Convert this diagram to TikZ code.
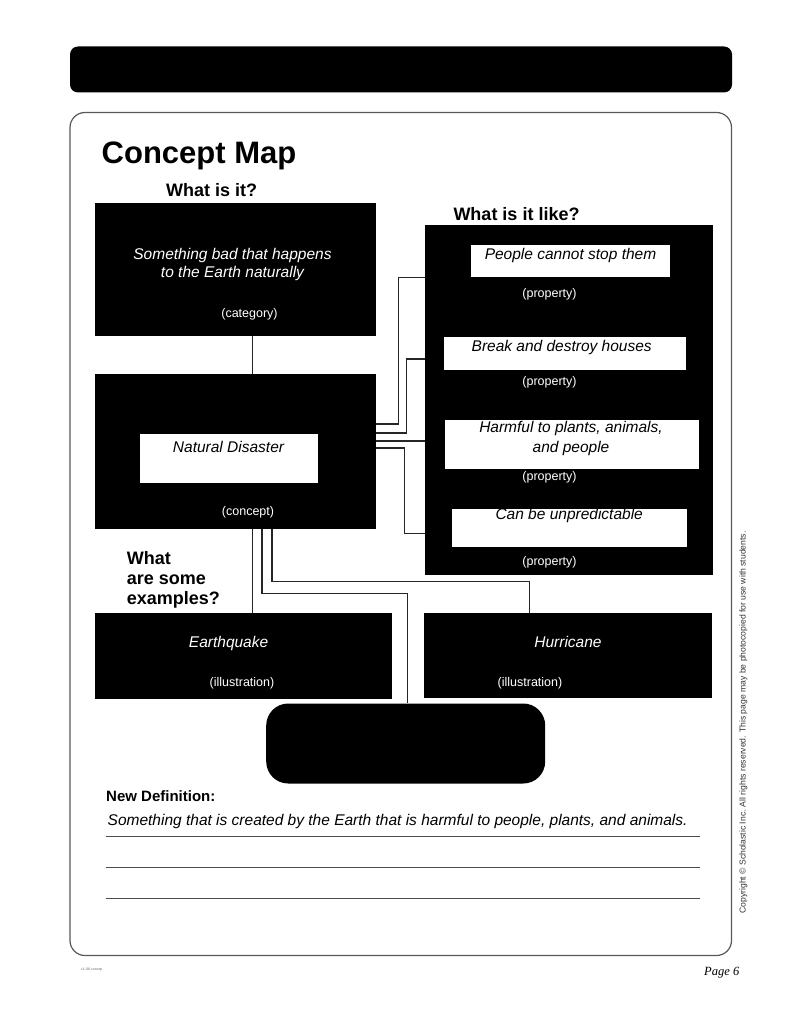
\documentclass[tikz,border=0pt]{standalone}
\usepackage{fontspec}
\setmainfont{Liberation Sans}
\newfontfamily\pageserif{Liberation Serif}
\usetikzlibrary{positioning}
\begin{document}
\begin{tikzpicture}[x=1pt,y=-1pt,
  blk/.style={fill=black, draw=none, inner sep=0pt, anchor=north west},
  wbox/.style={fill=white, draw=none, inner sep=0pt, anchor=north west},
  boxtxt/.style={font=\fontsize{15.5}{18}\selectfont\itshape, text=white, inner sep=0pt, anchor=base, align=center},
  intxt/.style={font=\fontsize{15.5}{20}\selectfont\itshape, text=black, inner sep=0pt, anchor=base, align=center},
  role/.style={font=\fontsize{12.5}{14}\selectfont, text=white, inner sep=0pt, anchor=base},
  head/.style={font=\fontsize{18}{20}\selectfont\bfseries, inner sep=0pt, anchor=base west, align=left},
  conn/.style={draw=black!85, line width=1.3pt},
  rule/.style={draw=black!70, line width=1pt},
  frame/.style={draw=black!65, line width=1.2pt}
]
\useasboundingbox (0,0) rectangle (790,1022);
\fill[white] (0,0) rectangle (790,1022);

% top bar and frame
\fill[black, rounded corners=8pt] (70,46.5) rectangle (732,92.5);
\draw[frame, rounded corners=15pt] (70,112.5) rectangle (731.5,955.5);

% title and headings (multi-line nodes: base = last line's baseline)
\node[font=\fontsize{31}{36}\selectfont\bfseries, inner sep=0pt, anchor=base west] (title) at (101.5,163.3) {Concept Map};
\node[head] (hwhat) at (166,196.7) {What is it?};
\node[head] (hlike) at (453.3,220.7) {What is it like?};
\node[head] (hex) at (126.7,604) {What\\are some\\examples?};

% category box
\node[blk, minimum width=281pt, minimum height=133.4pt] (cat) at (94.3,202.3) {};
\node[boxtxt] (cattxt) at (232.5,277) {Something bad that happens\\to the Earth naturally};
\node[role] (catrole) at (249.5,317) {(category)};

% concept box
\node[blk, minimum width=281pt, minimum height=154.3pt] (con) at (94.3,374) {};
\node[wbox, minimum width=178.4pt, minimum height=48.3pt] (conin) at (139.3,434) {};
\node[intxt] (contxt) at (228.5,452) {Natural Disaster};
\node[role] (conrole) at (248,515) {(concept)};

% properties box
\node[blk, minimum width=287.3pt, minimum height=350.7pt] (props) at (425,224.3) {};
\node[wbox, minimum width=199pt, minimum height=31.7pt] (p1) at (471,245) {};
\node[intxt] (p1t) at (570.5,259) {People cannot stop them};
\node[role] (p1r) at (549.5,297) {(property)};
\node[wbox, minimum width=242pt, minimum height=33.3pt] (p2) at (444,336.7) {};
\node[intxt] (p2t) at (561.7,351) {Break and destroy houses};
\node[role] (p2r) at (549.5,385) {(property)};
\node[wbox, minimum width=253.3pt, minimum height=48.3pt] (p3) at (445,420) {};
\node[intxt] (p3t) at (571,452) {Harmful to plants, animals,\\and people};
\node[role] (p3r) at (549.5,480) {(property)};
\node[wbox, minimum width=235pt, minimum height=38.4pt] (p4) at (451.7,508.3) {};
\node[intxt] (p4t) at (569.2,519) {Can be unpredictable};
\node[role] (p4r) at (549.5,565) {(property)};

% example boxes
\node[blk, minimum width=297.3pt, minimum height=86pt] (eq) at (94.5,612.8) {};
\node[boxtxt] (eqt) at (228.6,647) {Earthquake};
\node[role] (eqr) at (242,686) {(illustration)};
\node[blk, minimum width=288pt, minimum height=85pt] (hu) at (424,612.8) {};
\node[boxtxt] (hut) at (568,647) {Hurricane};
\node[role] (hur) at (530,686) {(illustration)};

% rounded bottom box
\node[fill=black, draw=none, rounded corners=22pt, inner sep=0pt, anchor=north west,
      minimum width=279pt, minimum height=80pt] (rb) at (266,703.3) {};

% helper coordinates
\coordinate (x253) at (252.7,0);
\coordinate (x262) at (262,0);
\coordinate (x272) at (272,0);
\coordinate (x408) at (407.6,0);
\coordinate (x529) at (529.3,0);
\coordinate (y424) at (0,424);
\coordinate (y433) at (0,433);
\coordinate (y441) at (0,441);
\coordinate (y448) at (0,448);
\coordinate (y277) at (0,277.3);
\coordinate (y359) at (0,359);
\coordinate (y533) at (0,533.3);
\coordinate (y582) at (0,581.7);
\coordinate (y593) at (0,593.3);

% connectors
\draw[conn] (cat.south -| x253) -- (con.north -| x253);
\draw[conn] (con.east |- y424) -- ++(23,0) |- (props.west |- y277);
\draw[conn] (con.east |- y433) -- ++(31,0) |- (props.west |- y359);
\draw[conn] (con.east |- y441) -- (props.west |- y441);
\draw[conn] (con.east |- y448) -- ++(29,0) |- (props.west |- y533);
\draw[conn] (con.south -| x253) -- (eq.north -| x253);
\draw[conn] (con.south -| x262) |- (y593 -| x408) -- (rb.north -| x408);
\draw[conn] (con.south -| x272) |- (y582 -| x529) -- (hu.north -| x529);

% new definition
\node[font=\fontsize{15}{18}\selectfont\bfseries, inner sep=0pt, anchor=base west] (ndh) at (106,801.7) {New Definition:};
\node[font=\fontsize{15.5}{18}\selectfont\itshape, inner sep=0pt, anchor=base west] (ndt) at (107.5,825) {Something that is created by the Earth that is harmful to people, plants, and animals.};
\draw[rule] (106,836.7) -- (699.5,836.7);
\draw[rule] (106,867.3) -- (699.5,867.3);
\draw[rule] (106,898.3) -- (699.5,898.3);

% footer
\node[rotate=90, font=\fontsize{8.6}{10}\selectfont, text=black!80, inner sep=0pt] (copy) at (743.5,722.5) {Copyright \textcopyright\ Scholastic Inc. All rights reserved. This page may be photocopied for use with students.};
\node[font=\pageserif\itshape\fontsize{12.5}{14}\selectfont, inner sep=0pt, anchor=base west] (page) at (704,975) {Page 6};
\node[font=\fontsize{3.5}{4}\selectfont, text=black!60, inner sep=0pt, anchor=west] (code) at (81,970) {c1-06-concep};
\end{tikzpicture}
\end{document}
